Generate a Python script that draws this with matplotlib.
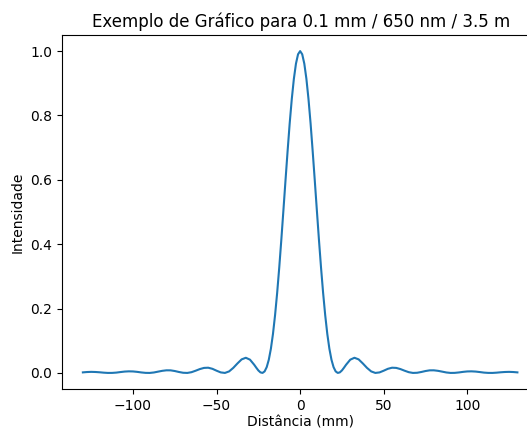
import matplotlib.pyplot as plt

# Posições no anteparo (mm) e intensidade relativa
posicao = [-130, -127.5, -125, -122.5, -120, -117.5, -115, -112.5, -110, -107.5,
           -105, -102.5, -100, -97.5, -95, -92.5, -90, -87.5, -85, -82.5,
           -80, -77.5, -75, -72.5, -70, -67.5, -65, -62.5, -60, -57.5,
           -55, -52.5, -50, -47.5, -45, -42.5, -40, -37.5, -35, -32.5,
           -30, -27.5, -26.25, -25, -23.75, -22.5, -21.25, -20, -18.75, -17.5,
           -16.25, -15, -13.75, -12.5, -11.25, -10, -8.75, -7.5, -6.25, -5,
           -3.75, -2.5, -1.25, 0, 1.25, 2.5, 3.75, 5, 6.25, 7.5,
           8.75, 10, 11.25, 12.5, 13.75, 15, 16.25, 17.5, 18.75, 20,
           21.25, 22.5, 23.75, 25, 26.25, 27.5, 30, 32.5, 35, 37.5,
           40, 42.5, 45, 47.5, 50, 52.5, 55, 57.5, 60, 62.5,
           65, 67.5, 70, 72.5, 75, 77.5, 80, 82.5, 85, 87.5,
           90, 92.5, 95, 97.5, 100, 102.5, 105, 107.5, 110, 112.5,
           115, 117.5, 120, 122.5, 125, 127.5, 130]
intensidade = [0.0018, 0.0029, 0.0034, 0.0030, 0.0021, 0.0009, 0.0001, 0.0002, 0.0011, 0.0028,
               0.0043, 0.0050, 0.0047, 0.0034, 0.0016, 0.0003, 0.0001, 0.0015, 0.0041, 0.0066,
               0.0082, 0.0081, 0.0060, 0.0030, 0.0006, 0.0001, 0.0024, 0.0070, 0.0121, 0.0157,
               0.0163, 0.0129, 0.0070, 0.0017, 0.0001, 0.0048, 0.0158, 0.0296, 0.0422, 0.0472,
               0.0413, 0.0256, 0.0164, 0.0078, 0.0018, 0.0001, 0.0049, 0.0181, 0.0411, 0.0753,
               0.1214, 0.1796, 0.2487, 0.3275, 0.4142, 0.5058, 0.5988, 0.6895, 0.7755, 0.8510,
               0.9138, 0.9609, 0.9901, 1.0000, 0.9901, 0.9609, 0.9138, 0.8510, 0.7755, 0.6895,
               0.5988, 0.5058, 0.4142, 0.3275, 0.2487, 0.1796, 0.1214, 0.0753, 0.0411, 0.0181,
               0.0049, 0.0001, 0.0018, 0.0078, 0.0164, 0.0256, 0.0413, 0.0472, 0.0422, 0.0296,
               0.0158, 0.0048, 0.0001, 0.0017, 0.0070, 0.0129, 0.0163, 0.0157, 0.0121, 0.0070,
               0.0024, 0.0001, 0.0006, 0.0030, 0.0060, 0.0081, 0.0082, 0.0066, 0.0041, 0.0015,
               0.0001, 0.0003, 0.0016, 0.0034, 0.0047, 0.0050, 0.0043, 0.0028, 0.0011, 0.0002,
               0.0001, 0.0009, 0.0021, 0.0030, 0.0034, 0.0029, 0.0018]

fig = plt.figure(figsize=(5.27, 4.29), dpi=100)
ax = fig.add_axes([0.1176, 0.0932, 0.907, 0.8252])
ax.plot(posicao, intensidade, color='#1f77b4', linewidth=1.5)
ax.set_xlim(-142.5, 143.5)
ax.set_title('Exemplo de Gráfico para 0.1 mm / 650 nm / 3.5 m', fontsize=12)
ax.set_xlabel('Distância (mm)', labelpad=2)
ax.set_ylabel('Intensidade')
plt.savefig('out.png', dpi=100)
